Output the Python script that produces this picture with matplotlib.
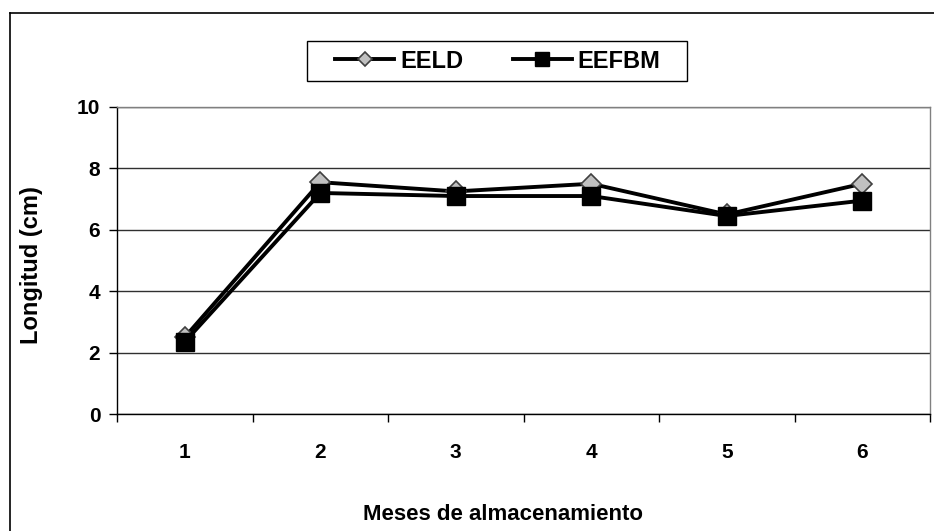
import matplotlib.pyplot as plt
from matplotlib.lines import Line2D
from matplotlib.patches import Rectangle

plt.rcParams['font.family'] = ['Liberation Sans', 'DejaVu Sans']
plt.rcParams['font.weight'] = 'bold'

# Longitud media por mes de almacenamiento
meses = ["1", "2", "3", "4", "5", "6"]
eeld = [2.5, 7.55, 7.25, 7.5, 6.5, 7.5]
eefbm = [2.35, 7.2, 7.1, 7.1, 6.45, 6.95]

W, H = 934, 531
fig = plt.figure(figsize=(W / 100, H / 100), dpi=100)
ax = fig.add_axes([117 / W, 1 - 414 / H, 813 / W, 307 / H])

pos = list(range(len(meses)))
ax.plot(pos, eeld, color="black", lw=2.8, marker="D", ms=10,
        mfc="#c0c0c0", mec="#404040", mew=1.2, zorder=3, label="EELD")
ax.plot(pos, eefbm, color="black", lw=2.8, marker="s", ms=13,
        mfc="black", mec="black", zorder=4, label="EEFBM")

ax.set_xlim(-0.5, len(meses) - 0.5)
ax.set_ylim(0, 10)
ax.set_yticks(range(0, 11, 2))
ax.set_yticklabels([str(v) for v in range(0, 11, 2)], fontsize=15, fontweight="bold")
ax.yaxis.grid(True, color="#303030", lw=1)
ax.set_axisbelow(True)

# ticks between categories, labels centred on each category
ax.set_xticks([p - 0.5 for p in pos] + [len(meses) - 0.5])
ax.set_xticklabels([])
ax.set_xticks(pos, minor=True)
ax.set_xticklabels(meses, minor=True, fontsize=15, fontweight="bold")
ax.tick_params(axis="x", which="major", direction="out", length=6, width=1)
ax.tick_params(axis="x", which="minor", length=0, pad=21)
ax.tick_params(axis="y", direction="out", length=6, width=1, pad=6)

for s in ["left", "bottom"]:
    ax.spines[s].set_color("black")
    ax.spines[s].set_linewidth(1)
for s in ["top", "right"]:
    ax.spines[s].set_color("#808080")
    ax.spines[s].set_linewidth(1)

fig.text(32 / W, 1 - 265 / H, "Longitud (cm)", fontsize=17, fontweight="bold",
         rotation=90, ha="center", va="center")
fig.text(503 / W, 1 - 515 / H, "Meses de almacenamiento", fontsize=16,
         fontweight="bold", ha="center", va="center")

# marco exterior del grafico
fig.add_artist(Line2D([10 / W, 10 / W], [0, 1 - 13 / H],
                      transform=fig.transFigure, color="black", lw=1.2))
fig.add_artist(Line2D([10 / W, 1], [1 - 13 / H, 1 - 13 / H],
                      transform=fig.transFigure, color="black", lw=1.2))

# leyenda con marco propio
fig.add_artist(Rectangle((307 / W, 1 - 81 / H), 380 / W, 40 / H,
                         transform=fig.transFigure, fill=False,
                         edgecolor="black", lw=1))
h1 = Line2D([], [], color="black", lw=2.8, marker="D", ms=7,
            mfc="#c0c0c0", mec="#404040", mew=1.2)
h2 = Line2D([], [], color="black", lw=2.8, marker="s", ms=10,
            mfc="black", mec="black")
leg = fig.legend([h1, h2], ["EELD", "EEFBM"], loc="center",
                 bbox_to_anchor=(498 / W, 1 - 61 / H),
                 ncol=2, fontsize=17, frameon=False,
                 handlelength=2.5, columnspacing=2.1,
                 handletextpad=0.25, borderpad=0, borderaxespad=0)
for t in leg.get_texts():
    t.set_fontweight("bold")

fig.savefig("out.png", dpi=100)
